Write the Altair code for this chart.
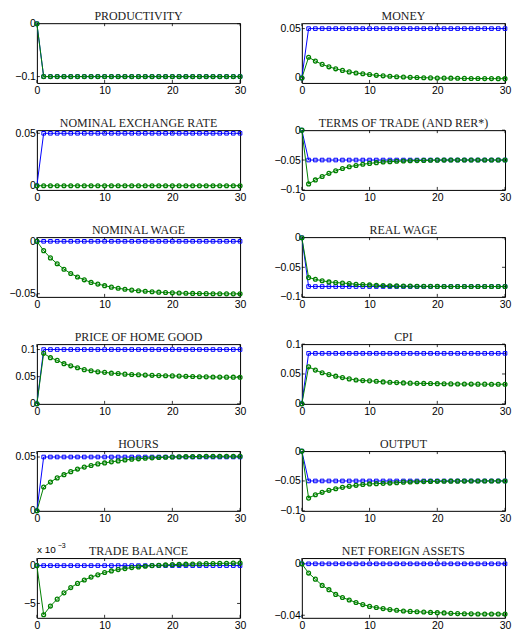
import altair as alt
import pandas as pd

t = list(range(31))

titles = ["PRODUCTIVITY", "MONEY", "NOMINAL EXCHANGE RATE", "TERMS OF TRADE (AND RER*)",
          "NOMINAL WAGE", "REAL WAGE", "PRICE OF HOME GOOD", "CPI",
          "HOURS", "OUTPUT", "TRADE BALANCE", "NET FOREIGN ASSETS"]

# blue series (flexible prices / benchmark)
blue_productivity = [0] + [-0.1] * 30
blue_money = [0] + [0.05] * 30
blue_ner = [0] + [0.05] * 30
blue_tot = [0] + [-0.05] * 30
blue_nwage = [0] * 31
blue_rwage = [0] + [-0.0825] * 30
blue_phome = [0] + [0.1] * 30
blue_cpi = [0] + [0.0845] * 30
blue_hours = [0] + [0.05] * 30
blue_output = [0] + [-0.05] * 30
blue_tb = [0] * 31
blue_nfa = [0] * 31

# green series
green_productivity = [0] + [-0.1] * 30
green_money = [0, 0.021, 0.0171, 0.0138, 0.0113, 0.0093, 0.0077, 0.0062, 0.0051, 0.0043, 0.0035,
               0.0027, 0.0022, 0.0018, 0.0013, 0.001, 0.0007, 0.0005, 0.0003, 0.0001, 0.0,
               -0.0001, -0.0002, -0.0003, -0.0004, -0.0005, -0.0005, -0.0006, -0.0006, -0.0007, -0.0007]
green_ner = [0] * 31
green_tot = [0, -0.090, -0.0833, -0.0775, -0.0722, -0.0680, -0.0642, -0.0612, -0.0592, -0.0570, -0.0556,
             -0.0544, -0.0533, -0.0527, -0.0521, -0.0516, -0.0512, -0.0509, -0.0506, -0.0504, -0.0502,
             -0.0501, -0.0500, -0.0500, -0.0500, -0.0500, -0.0500, -0.0500, -0.0500, -0.0500, -0.0500]
green_nwage = [0, -0.0089, -0.0158, -0.0214, -0.0266, -0.0307, -0.0340, -0.0367, -0.0392, -0.0408, -0.0423,
               -0.0437, -0.0448, -0.0457, -0.0465, -0.0471, -0.0476, -0.0481, -0.0485, -0.0488, -0.0491,
               -0.0493, -0.0495, -0.0497, -0.0498, -0.0499, -0.0500, -0.0500, -0.0501, -0.0501, -0.0501]
green_rwage = [0, -0.0674, -0.0702, -0.0728, -0.0747, -0.0758, -0.0766, -0.0775, -0.0787, -0.0792, -0.0798,
               -0.0803, -0.0808, -0.0811, -0.0814, -0.0816, -0.0818, -0.0820, -0.0821, -0.0822, -0.0823,
               -0.0824, -0.0824, -0.0825, -0.0825, -0.0825, -0.0825, -0.0825, -0.0825, -0.0825, -0.0825]
green_phome = [0, 0.093, 0.085, 0.080, 0.074, 0.070, 0.0665, 0.063, 0.061, 0.059, 0.058,
               0.0565, 0.0558, 0.0547, 0.054, 0.0535, 0.053, 0.0525, 0.052, 0.0517, 0.0515,
               0.0511, 0.0507, 0.0503, 0.0499, 0.0497, 0.0495, 0.0493, 0.0492, 0.0491, 0.049]
green_cpi = [0, 0.062, 0.0565, 0.052, 0.049, 0.0463, 0.044, 0.0418, 0.040, 0.039, 0.0385,
             0.0378, 0.0367, 0.0362, 0.0356, 0.035, 0.0347, 0.0344, 0.0342, 0.034, 0.0338,
             0.0336, 0.0334, 0.0333, 0.0332, 0.0331, 0.033, 0.033, 0.0329, 0.0329, 0.0328]
green_hours = [0, 0.0221, 0.0267, 0.0306, 0.0336, 0.0364, 0.0388, 0.0406, 0.0421, 0.0436, 0.0445,
               0.0455, 0.0464, 0.0472, 0.0479, 0.0483, 0.0488, 0.0492, 0.0495, 0.0498, 0.0500,
               0.0502, 0.0503, 0.0504, 0.0505, 0.0506, 0.0506, 0.0507, 0.0507, 0.0507, 0.0507]
green_output = [0, -0.0787, -0.073, -0.069, -0.0657, -0.063, -0.0607, -0.059, -0.0573, -0.056, -0.055,
                -0.0545, -0.054, -0.0535, -0.053, -0.052, -0.0517, -0.0514, -0.0511, -0.0508, -0.0506,
                -0.0505, -0.0504, -0.0503, -0.0502, -0.0501, -0.0501, -0.05, -0.05, -0.05, -0.05]
# trade balance in units of 1e-3
green_tb = [0, -6.5, -5.35, -4.43, -3.6, -2.9, -2.35, -1.9, -1.52, -1.22, -0.91,
            -0.7, -0.52, -0.39, -0.26, -0.17, -0.09, 0.0, 0.04, 0.09, 0.13,
            0.16, 0.19, 0.21, 0.23, 0.26, 0.28, 0.3, 0.31, 0.33, 0.35]
green_nfa = [0, -0.0072, -0.0119, -0.0168, -0.0201, -0.0238, -0.0262, -0.0281, -0.0301, -0.0317, -0.0331,
             -0.034, -0.0348, -0.0356, -0.0361, -0.0367, -0.037, -0.0373, -0.0375, -0.0378, -0.038,
             -0.0382, -0.0385, -0.0387, -0.0388, -0.0389, -0.039, -0.039, -0.039, -0.039, -0.039]

blues = [blue_productivity, blue_money, blue_ner, blue_tot, blue_nwage, blue_rwage,
         blue_phome, blue_cpi, blue_hours, blue_output, blue_tb, blue_nfa]
greens = [green_productivity, green_money, green_ner, green_tot, green_nwage, green_rwage,
          green_phome, green_cpi, green_hours, green_output, green_tb, green_nfa]

y_domains = [[-0.112, 0.001], [-0.005, 0.0555], [-0.004, 0.053], [-0.1, 0.0],
             [-0.053, 0.004], [-0.1, 0.001], [0.0, 0.11], [0.0, 0.1],
             [0.0, 0.0555], [-0.1, 0.0], [-6.9, 1.0], [-0.042, 0.0045]]
y_ticks = [[-0.1, 0], [0, 0.05], [0, 0.05], [-0.1, -0.05, 0],
           [-0.05, 0], [-0.1, -0.05, 0], [0, 0.05, 0.1], [0, 0.05, 0.1],
           [0, 0.05], [-0.1, -0.05, 0], [-5, 0], [-0.04, 0]]
x_ticks = [0, 10, 20, 30]

BLUE = "#0000ff"
GREEN = "#008000"
W, H = 204, 60
TICK = 3

panels = []
for i, title in enumerate(titles):
    df = pd.DataFrame({"t": t, "blue": blues[i], "green": greens[i]})
    xsc = alt.Scale(domain=[0, 30], nice=False, zero=False)
    xax = alt.Axis(values=x_ticks, title=None, labelFlush=False, labelPadding=2.5)
    yax = alt.Axis(values=y_ticks[i], title=None, format=".2~f", labelPadding=1.5)
    ysc = alt.Scale(domain=y_domains[i], nice=False, zero=False)
    xt = pd.DataFrame({"v": x_ticks})
    yt = pd.DataFrame({"v": y_ticks[i]})
    # inward tick marks (MATLAB style)
    xtick_top = alt.Chart(xt).mark_rule(color="black", strokeWidth=0.8).encode(
        x=alt.X("v:Q", scale=xsc, axis=xax), y=alt.value(0), y2=alt.value(TICK))
    xtick_bot = alt.Chart(xt).mark_rule(color="black", strokeWidth=0.8).encode(
        x=alt.X("v:Q", scale=xsc, axis=xax), y=alt.value(H - TICK), y2=alt.value(H))
    ytick_l = alt.Chart(yt).mark_rule(color="black", strokeWidth=0.8).encode(
        y=alt.Y("v:Q", scale=ysc, axis=yax), x=alt.value(0), x2=alt.value(TICK))
    ytick_r = alt.Chart(yt).mark_rule(color="black", strokeWidth=0.8).encode(
        y=alt.Y("v:Q", scale=ysc, axis=yax), x=alt.value(W - TICK), x2=alt.value(W))
    b = alt.Chart(df).mark_line(
        color=BLUE, strokeWidth=1, clip=False,
        point=alt.OverlayMarkDef(shape="square", filled=False, size=13, color=BLUE, strokeWidth=1)
    ).encode(x=alt.X("t:Q", scale=xsc, axis=xax), y=alt.Y("blue:Q", scale=ysc, axis=yax))
    g = alt.Chart(df).mark_line(
        color=GREEN, strokeWidth=1, clip=False,
        point=alt.OverlayMarkDef(shape="circle", filled=False, size=15, color=GREEN, strokeWidth=1.3)
    ).encode(x=alt.X("t:Q", scale=xsc, axis=xax), y=alt.Y("green:Q", scale=ysc, axis=yax))
    ann = pd.DataFrame({"label": [title]})
    ttl = alt.Chart(ann).mark_text(
        align="center", baseline="alphabetic", fontSize=12, font="Liberation Serif",
        color="#222222"
    ).encode(text="label:N", x=alt.value(W / 2), y=alt.value(-3))
    layers = [xtick_top, xtick_bot, ytick_l, ytick_r, b, g, ttl]
    if i == 10:
        layers.append(alt.Chart(ann).mark_text(
            text="x 10", align="left", baseline="alphabetic", fontSize=10,
            font="Liberation Sans", color="black"
        ).encode(x=alt.value(0), y=alt.value(-5)))
        layers.append(alt.Chart(ann).mark_text(
            text="\u22123", align="left", baseline="alphabetic", fontSize=7,
            font="Liberation Sans", color="black"
        ).encode(x=alt.value(21), y=alt.value(-10)))
    p = alt.layer(*layers).properties(width=W, height=H)
    panels.append(p)

chart = alt.concat(*panels, columns=2, bounds="flush",
                   spacing={"column": 62, "row": 47.4}).properties(
    padding={"top": 0, "bottom": -2, "left": 0, "right": 0}
).configure_view(
    stroke="black", strokeWidth=1
).configure_axis(
    domain=False, grid=False, ticks=False,
    labelFont="Liberation Sans", labelFontSize=10.5, labelColor="black"
)

chart.save("out.html", embed_options={"renderer": "svg", "actions": False})
